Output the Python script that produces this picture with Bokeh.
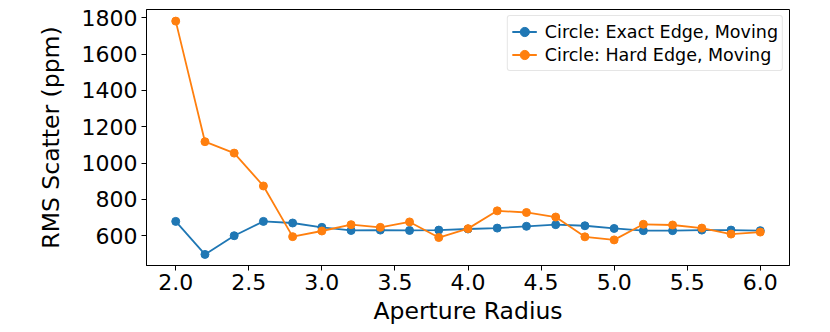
from bokeh.plotting import figure
from bokeh.models import Legend, LegendItem, FixedTicker, Range1d, NumeralTickFormatter
from bokeh.embed import file_html
from bokeh.resources import INLINE

radius = [2.0, 2.2, 2.4, 2.6, 2.8, 3.0, 3.2, 3.4, 3.6, 3.8, 4.0,
          4.2, 4.4, 4.6, 4.8, 5.0, 5.2, 5.4, 5.6, 5.8, 6.0]
exact_edge = [679, 497, 600, 679, 670, 646, 629, 631, 629, 631, 637,
              642, 652, 661, 655, 640, 628, 628, 631, 631, 628]
hard_edge = [1782, 1118, 1055, 874, 595, 626, 661, 646, 676, 590, 639,
             737, 728, 703, 594, 577, 663, 659, 642, 609, 620]
labels = ["Circle: Exact Edge, Moving", "Circle: Hard Edge, Moving"]
x_ticks = [2.0, 2.5, 3.0, 3.5, 4.0, 4.5, 5.0, 5.5, 6.0]
y_ticks = [600, 800, 1000, 1200, 1400, 1600, 1800]

FONT = "DejaVu Sans"
blue = "#1f77b4"
orange = "#ff7f0e"

p = figure(width=830, height=332, output_backend="svg", toolbar_location=None,
           x_range=Range1d(1.8, 6.2), y_range=Range1d(436, 1846),
           min_border_left=146, min_border_right=41, min_border_top=9,
           min_border_bottom=67)

p.background_fill_color = "white"
p.border_fill_color = "white"
p.outline_line_color = "black"
p.outline_line_width = 1
p.grid.visible = False

r1l = p.line(radius, exact_edge, line_color=blue, line_width=1.8)
r1s = p.scatter(radius, exact_edge, size=8, fill_color=blue, line_color=blue)
r2l = p.line(radius, hard_edge, line_color=orange, line_width=1.8)
r2s = p.scatter(radius, hard_edge, size=8, fill_color=orange, line_color=orange)

for ax in (p.xaxis[0], p.yaxis[0]):
    ax.major_label_text_font = FONT
    ax.major_label_text_font_size = "22px"
    ax.major_label_text_color = "black"
    ax.axis_label_text_font = FONT
    ax.axis_label_text_font_size = "23.5px"
    ax.axis_label_text_font_style = "normal"
    ax.axis_label_text_color = "black"
    ax.axis_line_color = "black"
    ax.major_tick_line_color = "black"
    ax.major_tick_out = 5
    ax.major_tick_in = 0
    ax.minor_tick_line_color = None

p.xaxis.ticker = FixedTicker(ticks=x_ticks)
p.xaxis.formatter = NumeralTickFormatter(format="0.0")
p.yaxis.ticker = FixedTicker(ticks=y_ticks)
p.xaxis.axis_label = "Aperture Radius"
p.yaxis.axis_label = "RMS Scatter (ppm)"
p.xaxis.major_label_standoff = 3
p.yaxis.major_label_standoff = 4
p.xaxis.axis_label_standoff = 4
p.yaxis.axis_label_standoff = 14

legend = Legend(items=[LegendItem(label=labels[0], renderers=[r1l, r1s]),
                       LegendItem(label=labels[1], renderers=[r2l, r2s])],
                location="top_right")
legend.label_text_font = FONT
legend.label_text_font_size = "17.5px"
legend.label_text_color = "black"
legend.border_line_color = "#cccccc"
legend.border_line_width = 1
legend.border_radius = 3
legend.glyph_width = 25
legend.label_standoff = 8
legend.spacing = 0
legend.padding = 4
legend.margin = 6
legend.label_height = 23
legend.glyph_height = 23
p.add_layout(legend)

open("out.html", "w").write(file_html(p, INLINE))
